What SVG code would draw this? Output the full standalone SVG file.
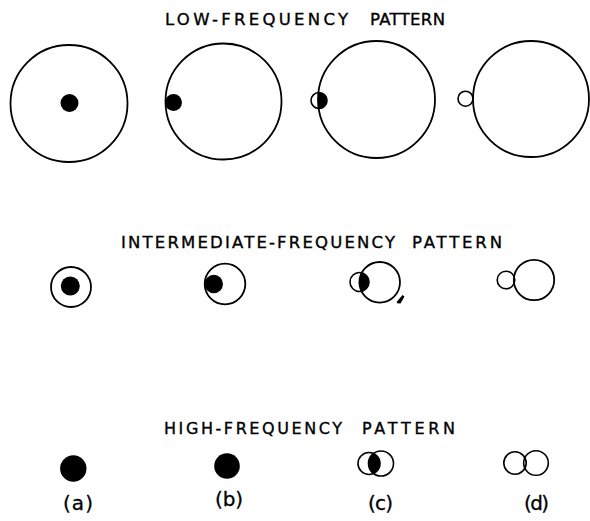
<svg xmlns="http://www.w3.org/2000/svg" width="590" height="521" viewBox="0 0 590 521">
<style>
.o{fill:none;stroke:#000;stroke-width:1.8}
.s{fill:none;stroke:#000;stroke-width:1.6}
.f{fill:#000;stroke:none}
.t{font-family:"DejaVu Sans","Liberation Sans",sans-serif;font-size:16.5px;fill:#000;stroke:#000;stroke-width:0.35}
.l{font-family:"DejaVu Sans","Liberation Sans",sans-serif;font-size:20px;fill:#000;stroke:#000;stroke-width:0.3}
</style>
<defs>
<clipPath id="c1"><circle cx="376.5" cy="99.5" r="58.5"/></clipPath>
<clipPath id="c2"><circle cx="379.7" cy="282.3" r="20.3"/></clipPath>
<clipPath id="c3"><circle cx="381" cy="463.5" r="12.5"/></clipPath>
</defs>
<rect width="590" height="521" fill="#fff"/>
<g id="titles">
<text class="t" y="25"><tspan x="165" textLength="183" lengthAdjust="spacing">LOW-FREQUENCY</tspan><tspan x="370" textLength="75" lengthAdjust="spacing">PATTERN</tspan></text>
<text class="t" y="248"><tspan x="121" textLength="274" lengthAdjust="spacing">INTERMEDIATE-FREQUENCY</tspan><tspan x="412" textLength="90" lengthAdjust="spacing">PATTERN</tspan></text>
<text class="t" y="434" style="font-size:16px"><tspan x="164" textLength="178" lengthAdjust="spacing">HIGH-FREQUENCY</tspan><tspan x="362" textLength="93" lengthAdjust="spacing">PATTERN</tspan></text>
</g>
<g id="low-a"><circle class="o" cx="69" cy="103.5" r="58.5"/><circle class="f" cx="69.5" cy="103" r="9"/></g>
<g id="low-b"><circle class="o" cx="223.5" cy="101.5" r="58"/><circle class="f" cx="173.5" cy="102.5" r="8.5"/></g>
<g id="low-c"><circle class="o" cx="376.5" cy="99.5" r="58.5"/><circle class="f" cx="319" cy="100.5" r="8" clip-path="url(#c1)"/><circle class="s" cx="319" cy="100.5" r="8"/></g>
<g id="low-d"><circle class="o" cx="531" cy="99" r="58"/><circle class="s" cx="465.5" cy="98.7" r="7.5"/></g>
<g id="int-a"><circle class="o" cx="71" cy="287" r="20"/><circle class="f" cx="70.3" cy="286" r="9.5"/></g>
<g id="int-b"><circle class="o" cx="225" cy="284" r="20.3"/><circle class="f" cx="213.8" cy="284" r="9.2"/></g>
<g id="int-c"><circle class="o" cx="379.7" cy="282.3" r="20.3"/><circle class="f" cx="359.5" cy="282" r="9.5" clip-path="url(#c2)"/><circle class="s" cx="359.5" cy="282" r="9.5"/><path class="f" d="M402.5,295 L404.5,296.5 L400.5,303.5 L397,303.3 L396.8,301.8 Z"/></g>
<g id="int-d"><circle class="o" cx="534" cy="280" r="20.2"/><circle class="s" cx="506" cy="280" r="8.8"/></g>
<g id="high-a"><circle class="f" cx="73.3" cy="468.5" r="13.2"/></g>
<g id="high-b"><circle class="f" cx="227" cy="466" r="12.8"/></g>
<g id="high-c"><circle class="f" cx="369" cy="463.5" r="11" clip-path="url(#c3)"/><circle class="s" cx="369" cy="463.5" r="11"/><circle class="s" cx="381" cy="463.5" r="12.5"/></g>
<g id="high-d"><circle class="s" cx="515" cy="463" r="11.2"/><circle class="s" cx="536" cy="463" r="12.3"/></g>
<g id="labels">
<text class="l" x="63" y="510" textLength="30" lengthAdjust="spacing">(a)</text>
<text class="l" x="215" y="506" textLength="28" lengthAdjust="spacing">(b)</text>
<text class="l" x="368" y="510" textLength="25" lengthAdjust="spacing">(c)</text>
<text class="l" x="524" y="510" textLength="25" lengthAdjust="spacing">(d)</text>
</g>
</svg>
